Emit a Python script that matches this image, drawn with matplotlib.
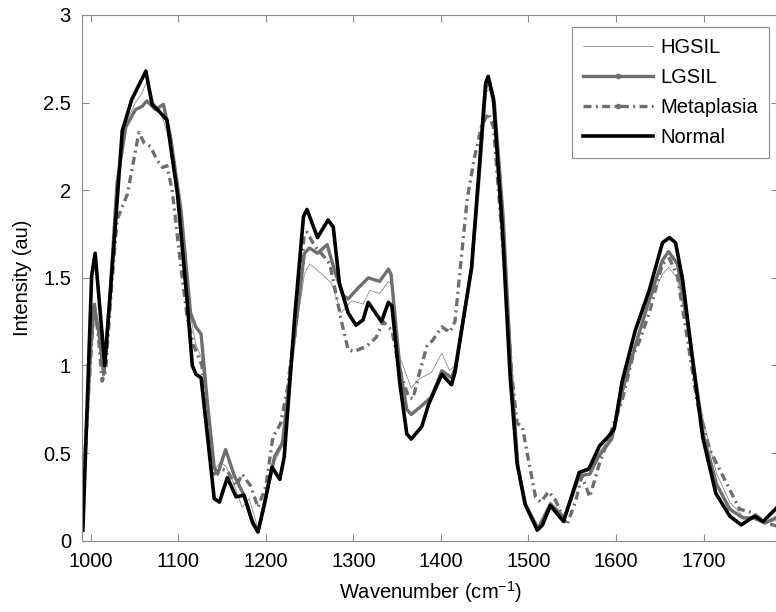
import matplotlib
matplotlib.use("Agg")
import matplotlib.pyplot as plt
from matplotlib.lines import Line2D
from matplotlib.ticker import FormatStrFormatter

plt.rcParams['font.family'] = ['Liberation Sans', 'DejaVu Sans']
plt.rcParams['mathtext.fontset'] = 'custom'
plt.rcParams['mathtext.rm'] = 'Liberation Sans'
plt.rcParams['mathtext.it'] = 'Liberation Sans:italic'
plt.rcParams['lines.solid_joinstyle'] = 'round'
plt.rcParams['lines.dash_joinstyle'] = 'round'

# Normal
wn_normal = [991, 1001, 1005, 1010, 1016, 1026, 1036, 1047, 1055, 1063, 1070, 1080, 1087, 1099,
             1110, 1116, 1120, 1126, 1135, 1141, 1147, 1156, 1166, 1175, 1185, 1191, 1198, 1207,
             1216, 1221, 1233, 1243, 1247, 1259, 1271, 1277, 1284, 1294, 1303, 1311, 1317, 1332,
             1340, 1344, 1353, 1361, 1366, 1378, 1386, 1401, 1412, 1416, 1435, 1443, 1451, 1454,
             1460, 1470, 1479, 1487, 1496, 1510, 1516, 1525, 1540, 1558, 1569, 1581, 1594, 1598,
             1607, 1622, 1638, 1653, 1661, 1668, 1676, 1688, 1699, 1714, 1730, 1743, 1758, 1768, 1786]
normal = [0.06, 1.51, 1.64, 1.35, 1.00, 1.66, 2.34, 2.52, 2.60, 2.68, 2.49, 2.44, 2.40, 1.98,
          1.37, 1.00, 0.95, 0.93, 0.52, 0.24, 0.22, 0.36, 0.25, 0.26, 0.10, 0.05, 0.20, 0.42,
          0.35, 0.48, 1.28, 1.85, 1.89, 1.73, 1.83, 1.79, 1.47, 1.30, 1.23, 1.26, 1.36, 1.25,
          1.36, 1.34, 0.90, 0.61, 0.58, 0.65, 0.78, 0.95, 0.89, 0.96, 1.56, 2.08, 2.61, 2.65,
          2.52, 1.79, 0.94, 0.44, 0.21, 0.06, 0.09, 0.20, 0.11, 0.39, 0.41, 0.54, 0.61, 0.64,
          0.91, 1.20, 1.43, 1.70, 1.73, 1.70, 1.49, 1.01, 0.59, 0.27, 0.14, 0.09, 0.14, 0.11, 0.20]

# LGSIL
wn_lgsil = [991, 1000, 1004, 1009, 1015, 1022, 1030, 1040, 1051, 1059, 1064, 1074, 1083, 1091,
            1103, 1114, 1120, 1126, 1133, 1141, 1145, 1154, 1164, 1175, 1184, 1191, 1200, 1210,
            1219, 1233, 1244, 1250, 1259, 1270, 1278, 1288, 1294, 1305, 1317, 1330, 1340, 1343,
            1353, 1361, 1366, 1378, 1389, 1401, 1412, 1416, 1435, 1444, 1451, 1455, 1461, 1471,
            1480, 1488, 1497, 1511, 1525, 1541, 1558, 1570, 1580, 1595, 1607, 1620, 1637, 1653,
            1660, 1670, 1680, 1690, 1700, 1715, 1730, 1745, 1758, 1770, 1786]
lgsil = [0.25, 1.10, 1.34, 1.20, 0.95, 1.40, 2.04, 2.36, 2.46, 2.48, 2.51, 2.46, 2.49, 2.31,
         1.89, 1.30, 1.22, 1.18, 0.80, 0.42, 0.38, 0.52, 0.37, 0.26, 0.12, 0.05, 0.25, 0.48,
         0.56, 1.18, 1.64, 1.67, 1.64, 1.69, 1.55, 1.40, 1.38, 1.44, 1.50, 1.48, 1.55, 1.52,
         0.99, 0.75, 0.72, 0.77, 0.82, 0.97, 0.93, 0.98, 1.55, 2.10, 2.58, 2.62, 2.50, 1.85,
         0.98, 0.42, 0.20, 0.07, 0.21, 0.13, 0.37, 0.38, 0.48, 0.58, 0.85, 1.08, 1.36, 1.60,
         1.65, 1.58, 1.30, 0.95, 0.60, 0.32, 0.18, 0.13, 0.13, 0.10, 0.14]

# Metaplasia
wn_meta = [991, 1000, 1004, 1009, 1013, 1017, 1023, 1030, 1042, 1049, 1055, 1061, 1068, 1076,
           1082, 1087, 1093, 1103, 1110, 1118, 1127, 1133, 1141, 1148, 1156, 1166, 1173, 1183,
           1191, 1200, 1208, 1217, 1225, 1229, 1233, 1244, 1247, 1256, 1265, 1273, 1280, 1286,
           1294, 1301, 1315, 1326, 1334, 1344, 1353, 1363, 1368, 1376, 1384, 1390, 1401, 1410,
           1416, 1422, 1430, 1438, 1446, 1454, 1460, 1472, 1481, 1487, 1493, 1500, 1508, 1514,
           1523, 1531, 1537, 1544, 1554, 1561, 1570, 1581, 1592, 1607, 1619, 1626, 1638, 1653,
           1661, 1670, 1680, 1693, 1707, 1726, 1741, 1756, 1772, 1786]
meta = [0.30, 1.05, 1.36, 1.15, 0.91, 0.97, 1.40, 1.83, 1.98, 2.17, 2.33, 2.27, 2.25, 2.17,
        2.13, 2.14, 2.00, 1.56, 1.28, 1.11, 1.00, 0.71, 0.38, 0.41, 0.40, 0.31, 0.38, 0.31,
        0.19, 0.31, 0.59, 0.67, 0.88, 1.05, 1.16, 1.75, 1.76, 1.68, 1.63, 1.58, 1.41, 1.26,
        1.09, 1.08, 1.11, 1.16, 1.25, 1.20, 0.97, 0.82, 0.81, 0.97, 1.11, 1.14, 1.22, 1.19,
        1.25, 1.55, 1.95, 2.18, 2.36, 2.44, 2.36, 1.60, 0.94, 0.67, 0.65, 0.46, 0.25, 0.22,
        0.28, 0.23, 0.16, 0.09, 0.23, 0.37, 0.25, 0.44, 0.59, 0.80, 1.05, 1.13, 1.30, 1.58,
        1.61, 1.51, 1.20, 0.78, 0.52, 0.33, 0.18, 0.16, 0.10, 0.08]

# HGSIL
wn_hgsil = [991, 1000, 1004, 1009, 1014, 1022, 1030, 1040, 1051, 1058, 1065, 1072, 1080, 1090,
            1103, 1114, 1120, 1126, 1133, 1141, 1148, 1155, 1163, 1173, 1181, 1191, 1200, 1210,
            1220, 1233, 1244, 1250, 1262, 1275, 1286, 1298, 1311, 1319, 1330, 1340, 1344, 1353,
            1366, 1374, 1389, 1401, 1410, 1416, 1435, 1444, 1451, 1455, 1461, 1471, 1480, 1488,
            1497, 1511, 1525, 1541, 1558, 1570, 1580, 1595, 1607, 1620, 1637, 1653, 1660, 1670,
            1680, 1690, 1700, 1715, 1730, 1745, 1758, 1770, 1786]
hgsil = [0.28, 1.05, 1.30, 1.15, 0.93, 1.40, 2.00, 2.38, 2.50, 2.55, 2.63, 2.50, 2.45, 2.28,
         1.85, 1.28, 1.12, 1.05, 0.78, 0.40, 0.45, 0.42, 0.33, 0.19, 0.24, 0.07, 0.22, 0.45,
         0.55, 1.15, 1.52, 1.58, 1.53, 1.47, 1.30, 1.37, 1.35, 1.43, 1.41, 1.48, 1.46, 1.05,
         0.87, 0.92, 0.96, 1.07, 0.97, 1.00, 1.55, 2.05, 2.55, 2.58, 2.45, 1.85, 0.98, 0.42,
         0.20, 0.08, 0.22, 0.14, 0.38, 0.40, 0.50, 0.60, 0.85, 1.08, 1.35, 1.52, 1.56, 1.50,
         1.25, 0.95, 0.68, 0.38, 0.22, 0.14, 0.12, 0.10, 0.12]

FS = 14.5
GRAY_AX = '#8c8c8c'
dashdot = (0, (2.4, 1.3, 0.6, 1.3))

fig = plt.figure(figsize=(7.76, 6.12), dpi=100)
ax = fig.add_axes([82 / 776, 71.3 / 612, 696 / 776, 525.7 / 612])

ax.plot(wn_hgsil, hgsil, color='#8a8a8a', lw=0.6)
ax.plot(wn_lgsil, lgsil, color='#6e6e6e', lw=2.4)
ax.plot(wn_meta, meta, color='#6e6e6e', lw=2.4, linestyle=dashdot)
ax.plot(wn_normal, normal, color='black', lw=2.6)

ax.set_xlim(990, 1785)
ax.set_ylim(0, 3)
ax.set_xticks([1000, 1100, 1200, 1300, 1400, 1500, 1600, 1700])
ax.set_yticks([0, 0.5, 1, 1.5, 2, 2.5, 3])
ax.yaxis.set_major_formatter(FormatStrFormatter('%g'))
ax.tick_params(direction='in', top=True, right=True, length=5, width=0.8,
               color=GRAY_AX, labelsize=FS, pad=8)
for s in ax.spines.values():
    s.set_color(GRAY_AX)
    s.set_linewidth(0.8)

ax.set_xlabel('Wavenumber (cm$^{-1}$)', fontsize=FS, labelpad=6)
ax.set_ylabel('Intensity (au)', fontsize=FS, labelpad=8)

handles = [
    Line2D([], [], color='#8a8a8a', lw=0.6),
    Line2D([], [], color='#6e6e6e', lw=2.4, marker='.', markersize=6),
    Line2D([], [], color='#6e6e6e', lw=2.4, linestyle=dashdot, marker='.', markersize=6),
    Line2D([], [], color='black', lw=2.6),
]
leg = ax.legend(handles, ['HGSIL', 'LGSIL', 'Metaplasia', 'Normal'],
                loc='upper right', bbox_to_anchor=(0.987, 0.977), borderaxespad=0,
                fontsize=FS, fancybox=False, framealpha=1, edgecolor=GRAY_AX,
                handlelength=3.5, handletextpad=0.35, labelspacing=0.55,
                borderpad=0.55)
leg.get_frame().set_linewidth(0.8)

fig.savefig('out.png', dpi=100)
